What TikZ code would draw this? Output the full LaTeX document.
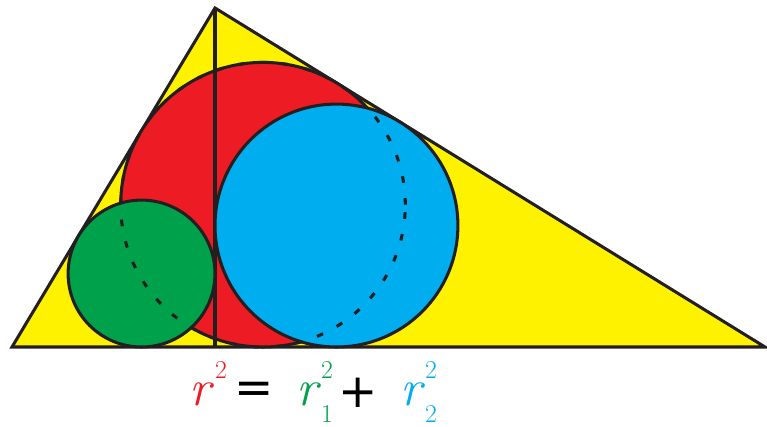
\documentclass[tikz,border=0pt]{standalone}
\usepackage{fontspec}
\newfontfamily\signfont{DejaVu Sans}
\usetikzlibrary{calc}
\definecolor{cyellow}{HTML}{FFF200}
\definecolor{cred}{HTML}{ED1C24}
\definecolor{cgreen}{HTML}{00A14B}
\definecolor{cblue}{HTML}{00AEEF}
\definecolor{cline}{HTML}{231F20}
\tikzset{
  every picture/.style={line width=2.6pt},
  disc/.style={draw=cline, fill=#1},
  hidden/.style={draw=cline, dash pattern=on 2mm off 4.6mm},
  letter/.style={text=#1, inner sep=0pt, font=\fontsize{44}{48}\selectfont\itshape},
  index/.style={text=#1, inner sep=0pt, font=\fontsize{22}{26}\selectfont},
  sign/.style={inner sep=0pt, font=\fontsize{40}{46}\selectfont\signfont},
}

\begin{document}
\begin{tikzpicture}[x=0.03cm, y=0.03cm]
  \useasboundingbox (0,0) rectangle (767,426);
  % right triangle and its altitude
  \coordinate (A) at (12,79);
  \coordinate (B) at (765,79);
  \coordinate (C) at (215,418);
  \coordinate (D) at (215,79);
  \coordinate (O) at (263.0,221.3);
  \coordinate (O1) at (141.55,152.45);
  \coordinate (O2) at (336.45,200.45);
  \draw[disc=cyellow] (A) -- (B) -- (C) -- cycle;
  % incircles
  \draw[disc=cred] (O) circle[radius=142.3];
  \draw[cline] (C) -- (D);
  \draw[disc=cgreen] (O1) circle[radius=73.45];
  \draw[disc=cblue] (O2) circle[radius=121.45];
  \draw[hidden] (O) circle[radius=142.3];
  % r^2 = r_1^2 + r_2^2
  \node[letter=cred] (r) at (200,32) {r};
  \node[index=cred] (rsq) at (221,56) {2};
  \node[sign] (eq) at (254,33) {=};
  \node[letter=cgreen] (ra) at (307,32) {r};
  \node[index=cgreen] (rasq) at (327,56) {2};
  \node[index=cgreen] (rasub) at (327,12) {1};
  \node[sign] (plus) at (358,33) {+};
  \node[letter=cblue] (rb) at (411,32) {r};
  \node[index=cblue] (rbsq) at (431,56) {2};
  \node[index=cblue] (rbsub) at (431,12) {2};
\end{tikzpicture}
\end{document}
